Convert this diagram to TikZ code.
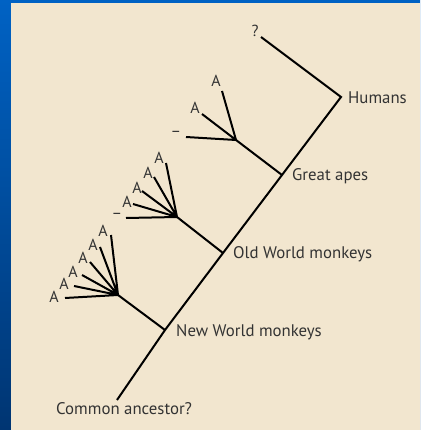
\documentclass[tikz,border=0pt]{standalone}
\usepackage{fontspec}
\setmainfont{PT Sans}
\definecolor{beige}{HTML}{F2E6CF}
\definecolor{bluetop}{HTML}{0062C4}
\definecolor{bluebot}{HTML}{003572}
\definecolor{txt}{HTML}{333333}
\begin{document}
\begin{tikzpicture}[x=1pt,y=-1pt,
  br/.style={line width=2pt,black},
  lab/.style={text=txt,font=\fontsize{16.8}{18}\selectfont,inner sep=0pt},
  tip/.style={text=txt,font=\fontsize{16}{18}\selectfont,inner sep=0pt}]
\useasboundingbox (0,0) rectangle (420,430);
\shade[top color=bluetop,bottom color=bluebot] (0,0) rectangle (420,430);
\fill[beige] (11,3) rectangle (420,430);
% trunk
\coordinate (root) at (117,400);
\coordinate (nw) at (165,330);
\coordinate (ow) at (223,253);
\coordinate (ga) at (282,175);
\coordinate (hu) at (341,97);
\coordinate (q) at (261,37);
\draw[br] (root) -- (nw) -- (ow) -- (ga) -- (hu) -- (q);
\node[tip,anchor=center] (qlab) at (255,31) {?};
% labels
\node[lab,anchor=west] (lhu) at (348,98) {Humans};
\node[lab,anchor=west] (lga) at (292,176) {Great apes};
\node[lab,anchor=west] (low) at (233,254) {Old World monkeys};
\node[lab,anchor=west] (lnw) at (176,332) {New World monkeys};
\node[lab,anchor=west] (lca) at (56,409) {Common ancestor?};
% great apes fan
\coordinate (fga) at (236,140);
\draw[br] (ga) -- (fga);
\coordinate (g1) at (222,91);
\coordinate (g2) at (202,114);
\coordinate (g3) at (186,137);
\draw[br] (fga) -- (g1) (fga) -- (g2) (fga) -- (g3);
\node[tip] (tg1) at (216,81) {A};
\node[tip] (tg2) at (195,108) {A};
\node[tip] (tg3) at (176,134) {–};
% old world fan
\coordinate (fow) at (177,217);
\draw[br] (ow) -- (fow);
\coordinate (o1) at (166,163);
\coordinate (o2) at (154,177);
\coordinate (o3) at (142,191);
\coordinate (o4) at (133,204);
\coordinate (o5) at (126,218);
\draw[br] (fow) -- (o1) (fow) -- (o2) (fow) -- (o3) (fow) -- (o4) (fow) -- (o5);
\node[tip] (to1) at (159,158) {A};
\node[tip] (to2) at (148,173) {A};
\node[tip] (to3) at (137,188) {A};
\node[tip] (to4) at (127,202) {A};
\node[tip] (to5) at (117,216) {–};
% new world fan
\coordinate (fnw) at (118,295);
\draw[br] (nw) -- (fnw);
\coordinate (n1) at (111,235);
\coordinate (n2) at (100,247);
\coordinate (n3) at (90,262);
\coordinate (n4) at (82,275);
\coordinate (n5) at (74,286);
\coordinate (n6) at (65,298);
\draw[br] (fnw) -- (n1) (fnw) -- (n2) (fnw) -- (n3) (fnw) -- (n4) (fnw) -- (n5) (fnw) -- (n6);
\node[tip] (tn1) at (103,231) {A};
\node[tip] (tn2) at (93,245) {A};
\node[tip] (tn3) at (83,258) {A};
\node[tip] (tn4) at (73,272) {A};
\node[tip] (tn5) at (64,284) {A};
\node[tip] (tn6) at (54,297) {A};
\end{tikzpicture}
\end{document}
